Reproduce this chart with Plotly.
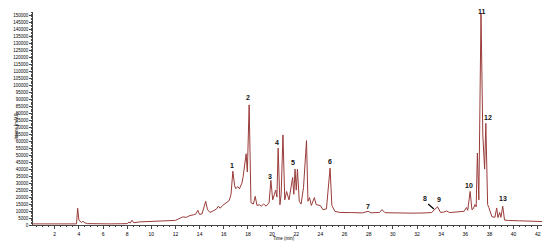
import plotly.graph_objects as go

# chromatogram: time (min) and intensity (mAU)
time = [0.2, 1.0, 2.0, 3.0, 3.8, 3.9, 4.0, 4.1, 4.2, 4.35, 4.5, 4.7, 5.5, 6.5, 7.5,
        8.0, 8.15, 8.25, 8.4, 8.55, 9.0, 9.5, 10.0, 10.5, 11.0, 11.5, 12.0, 12.3,
        12.6, 12.9, 13.2, 13.5, 13.7, 13.85, 14.0, 14.2, 14.5, 14.65, 14.85, 15.1,
        15.4, 15.55, 15.7, 15.9, 16.2, 16.45, 16.6, 16.75, 16.9, 17.0, 17.15, 17.3,
        17.5, 17.6, 17.85, 17.95, 18.1, 18.25, 18.45, 18.6, 18.75, 18.95, 19.1,
        19.3, 19.5, 19.75, 19.9, 20.05, 20.3, 20.4, 20.5, 20.65, 20.75, 20.9,
        21.05, 21.2, 21.4, 21.7, 21.8, 21.9, 22.0, 22.1, 22.25, 22.4, 22.6, 22.85,
        22.97, 23.1, 23.25, 23.5, 23.65, 24.0, 24.2, 24.5, 24.8, 24.95, 25.2,
        25.6, 26.5, 27.5, 27.95, 28.2, 28.9, 29.1, 29.35, 30.5, 31.5, 32.5, 33.2,
        33.7, 33.95, 34.2, 34.45, 34.7, 35.5, 35.9, 36.1, 36.2, 36.4, 36.55,
        36.65, 36.8, 36.9, 37.0, 37.12, 37.3, 37.45, 37.6, 37.7, 37.85, 37.95,
        38.2, 38.45, 38.6, 38.7, 38.85, 38.95, 39.1, 39.25, 39.6, 40.5, 41.0,
        41.5, 42.0, 42.6]
intens = [800, 800, 700, 700, 800, 12000, 3500, 2800, 1800, 2600, 1500, 1000, 800,
          800, 900, 1000, 2200, 1300, 3400, 1600, 2200, 2400, 2200, 2600, 2800,
          3000, 3300, 4500, 5800, 5500, 6800, 7300, 8000, 10500, 7500, 8000,
          17000, 11000, 9000, 10000, 11500, 13500, 12000, 14000, 16000, 17500,
          22000, 38500, 28000, 26000, 27500, 26000, 30000, 34500, 51000, 38000,
          86000, 16000, 15000, 20500, 14000, 14500, 13500, 15000, 13500, 16000,
          32000, 18000, 25000, 20000, 55000, 14500, 22000, 64500, 18000, 24000,
          18000, 34000, 22000, 40000, 25000, 40000, 17000, 15000, 26700, 60400,
          17000, 19600, 14000, 19600, 14600, 13900, 11000, 11500, 40700, 14000,
          9800, 9000, 8900, 8700, 9800, 8700, 9000, 11000, 8800, 8500, 8500, 8600,
          8900, 13000, 9000, 9200, 10000, 8900, 9500, 9800, 12500, 10500, 24000,
          11000, 11500, 14600, 13000, 51500, 18000, 151700, 64500, 40000, 72800,
          14600, 12500, 6000, 5500, 12200, 5300, 8900, 5500, 13400, 3500, 3200,
          3000, 2800, 2600, 2700, 2400]

# peak numbers and where they sit (11 is pinned to the top of its peak)
peak_labels = ["1", "2", "3", "4", "5", "6", "7", "8", "9", "10", "11", "12", "13"]
label_x = [16.69, 18.0, 19.82, 20.4, 21.72, 24.78, 27.93, 32.65, 33.8, 36.29, 37.37, 37.87, 39.1]
label_y = [42400, 91600, 34600, 58800, 44500, 45300, 13200, 18900, 18200, 28200, 151700, 77300, 18900]

fig = go.Figure()
fig.add_trace(go.Scatter(x=time, y=intens, mode="lines",
                         line=dict(color="#9a3c3a", width=1)))

for txt, lx, ly in zip(peak_labels, label_x, label_y):
    shift = 1.5 if txt == "11" else 0
    fig.add_annotation(x=lx, y=ly, yshift=shift, text="<b>%s</b>" % txt,
                       showarrow=False,
                       font=dict(size=7, color="#111111", family="Liberation Sans"))

# pointer for peak 8
fig.add_annotation(x=33.4, y=11500, ax=32.8, ay=16000, axref="x", ayref="y",
                   text="", showarrow=True, arrowhead=0, arrowwidth=1.2,
                   arrowcolor="black")

# axis titles placed by hand so they fit the thin margins
fig.add_annotation(x=0.49, y=-0.064, xref="paper", yref="paper", yanchor="middle",
                   text="Time (min)", showarrow=False, font=dict(size=4.5))
fig.add_annotation(x=-0.041, y=0.46, xref="paper", yref="paper", textangle=-90,
                   text="Intens [mAU]", showarrow=False, font=dict(size=4.5))

# page body adds an 8px offset, so the figure is a little smaller than the window
fig.update_layout(
    width=542, height=233,
    margin=dict(l=25, r=5, t=4, b=15.5),
    paper_bgcolor="white", plot_bgcolor="white",
    showlegend=False,
    font=dict(family="Liberation Sans", color="black"),
)
fig.update_xaxes(range=[0.2, 42.6], dtick=2, tick0=0, ticks="outside", ticklen=3,
                 tickwidth=0.6, tickfont=dict(size=5), showgrid=False,
                 zeroline=False, showline=True, linecolor="#444", linewidth=0.8,
                 automargin=False, ticklabelstandoff=1,
                 minor=dict(dtick=0.5, ticks="outside", ticklen=1.5, tickwidth=0.5))
fig.update_yaxes(range=[0, 152500], dtick=5000, tick0=0, ticks="outside", ticklen=3,
                 tickformat="d", tickwidth=0.6, tickfont=dict(size=4.5),
                 showgrid=False, zeroline=False, showline=True, linecolor="#444",
                 linewidth=0.8, automargin=False,
                 minor=dict(dtick=1000, ticks="outside", ticklen=1.5, tickwidth=0.5))

fig.write_html("out.html")
